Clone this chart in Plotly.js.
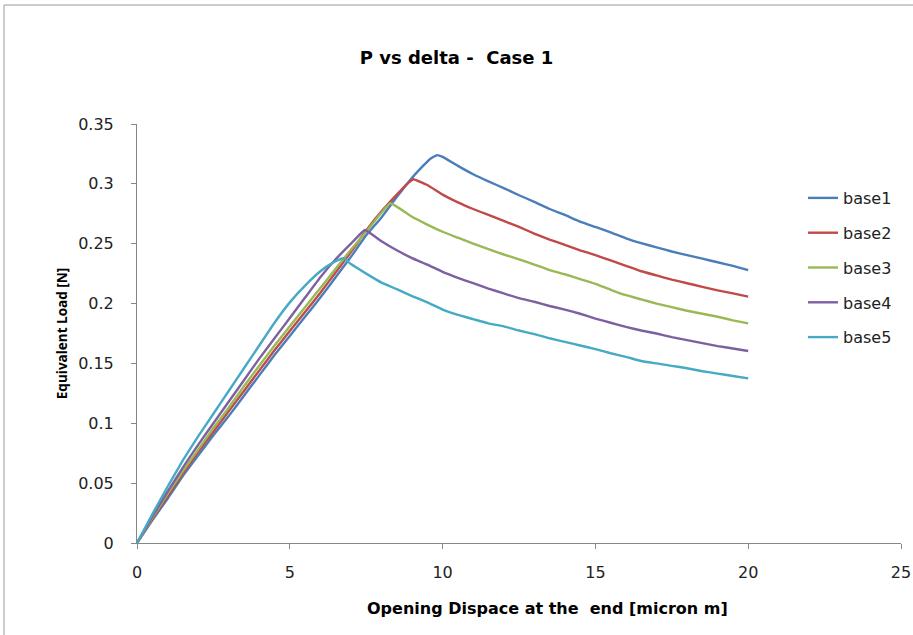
<!DOCTYPE html>
<html>
<head>
<meta charset="utf-8">
<script src="https://cdn.plot.ly/plotly-3.0.1.min.js"></script>
<style>
  html, body { margin: 0; padding: 0; background: #ffffff; }
  #chart { width: 913px; height: 635px; }
</style>
</head>
<body>
<div id="chart"></div>
<script>
// Series names
const seriesNames = ["base1", "base2", "base3", "base4", "base5"];

// base1
const base1X = [0, 0.5, 1, 1.5, 2, 2.5, 3, 3.5, 4, 4.5, 5, 5.5, 6, 6.5, 7, 7.5, 8, 8.5, 9, 9.4, 9.6, 9.82, 10, 10.5, 11, 11.5, 12, 12.5, 13, 13.5, 14, 14.5, 15, 15.5, 16, 16.5, 17, 17.5, 18, 18.5, 19, 19.5, 20];
const base1Y = [0, 0.019, 0.037, 0.056, 0.073, 0.090, 0.106, 0.123, 0.140, 0.157, 0.173, 0.189, 0.205, 0.222, 0.239, 0.257, 0.272, 0.289, 0.305, 0.316, 0.321, 0.324, 0.3225, 0.315, 0.308, 0.302, 0.2965, 0.2905, 0.285, 0.279, 0.274, 0.2685, 0.264, 0.2595, 0.2545, 0.2505, 0.247, 0.2435, 0.2405, 0.2375, 0.2345, 0.2315, 0.228];

// base2
const base2X = [0, 0.5, 1, 1.5, 2, 2.5, 3, 3.5, 4, 4.5, 5, 5.5, 6, 6.5, 7, 7.5, 8, 8.5, 8.8, 9.04, 9.5, 10, 10.5, 11, 11.5, 12, 12.5, 13, 13.5, 14, 14.5, 15, 15.5, 16, 16.5, 17, 17.5, 18, 18.5, 19, 19.5, 20];
const base2Y = [0, 0.020, 0.039, 0.058, 0.076, 0.093, 0.110, 0.127, 0.144, 0.161, 0.177, 0.193, 0.209, 0.226, 0.243, 0.261, 0.277, 0.291, 0.299, 0.3038, 0.299, 0.291, 0.2845, 0.279, 0.274, 0.269, 0.264, 0.2585, 0.2535, 0.249, 0.2445, 0.2405, 0.236, 0.2315, 0.227, 0.2235, 0.220, 0.217, 0.214, 0.211, 0.2085, 0.2058];

// base3
const base3X = [0, 0.5, 1, 1.5, 2, 2.5, 3, 3.5, 4, 4.5, 5, 5.5, 6, 6.5, 7, 7.5, 8, 8.28, 8.5, 9, 9.5, 10, 10.5, 11, 11.5, 12, 12.5, 13, 13.5, 14, 14.5, 15, 15.5, 16, 16.5, 17, 17.5, 18, 18.5, 19, 19.5, 20];
const base3Y = [0, 0.021, 0.041, 0.060, 0.078, 0.096, 0.113, 0.131, 0.148, 0.165, 0.181, 0.197, 0.213, 0.229, 0.245, 0.260, 0.276, 0.2838, 0.281, 0.2725, 0.266, 0.260, 0.255, 0.250, 0.2455, 0.241, 0.237, 0.2325, 0.228, 0.2245, 0.2205, 0.2165, 0.2115, 0.207, 0.2035, 0.200, 0.197, 0.194, 0.1915, 0.189, 0.186, 0.1835];

// base4
const base4X = [0, 0.5, 1, 1.5, 2, 2.5, 3, 3.5, 4, 4.5, 5, 5.5, 6, 6.5, 7, 7.46, 8, 8.5, 9, 9.5, 10, 10.5, 11, 11.5, 12, 12.5, 13, 13.5, 14, 14.5, 15, 15.5, 16, 16.5, 17, 17.5, 18, 18.5, 19, 19.5, 20];
const base4Y = [0, 0.022, 0.043, 0.063, 0.082, 0.100, 0.118, 0.136, 0.154, 0.171, 0.188, 0.205, 0.222, 0.237, 0.250, 0.2615, 0.252, 0.2445, 0.238, 0.2325, 0.2265, 0.2215, 0.217, 0.2125, 0.2085, 0.2045, 0.2015, 0.198, 0.195, 0.1915, 0.1875, 0.184, 0.1805, 0.1775, 0.175, 0.172, 0.1695, 0.167, 0.1645, 0.1625, 0.1604];

// base5
const base5X = [0, 0.5, 1, 1.5, 2, 2.5, 3, 3.5, 4, 4.5, 5, 5.5, 6, 6.4, 6.75, 7, 7.5, 8, 8.5, 9, 9.5, 10, 10.5, 11, 11.5, 12, 12.5, 13, 13.5, 14, 14.5, 15, 15.5, 16, 16.5, 17, 17.5, 18, 18.5, 19, 19.5, 20];
const base5Y = [0, 0.024, 0.047, 0.069, 0.089, 0.108, 0.127, 0.146, 0.165, 0.184, 0.201, 0.215, 0.227, 0.234, 0.238, 0.233, 0.225, 0.2175, 0.212, 0.2063, 0.201, 0.195, 0.1905, 0.187, 0.1835, 0.181, 0.1775, 0.1745, 0.171, 0.168, 0.165, 0.162, 0.1585, 0.1555, 0.152, 0.150, 0.148, 0.146, 0.1435, 0.1415, 0.1395, 0.1375];

// Tick values
const xTicks = [0, 5, 10, 15, 20, 25];
const yTicks = [0, 0.05, 0.1, 0.15, 0.2, 0.25, 0.3, 0.35];
const yTickText = ["0", "0.05", "0.1", "0.15", "0.2", "0.25", "0.3", "0.35"];

const colors = ["#4A7EBB", "#BE4B48", "#98B954", "#7D60A0", "#46AAC5"];
const xs = [base1X, base2X, base3X, base4X, base5X];
const ys = [base1Y, base2Y, base3Y, base4Y, base5Y];

const traces = seriesNames.map((n, i) => ({
  type: "scatter",
  mode: "lines",
  name: n,
  legendgroup: n,
  x: xs[i],
  y: ys[i],
  line: { color: colors[i], width: 2.4, shape: "spline", smoothing: 0.3 }
}));

const wideFont = "DejaVu Sans, Verdana, sans-serif";
const narrowFont = "Open Sans, Noto Sans, sans-serif";
const L = 137, R = 901, T = 124, B = 543;
const pw = R - L, ph = B - T;

const layout = {
  width: 913,
  height: 635,
  margin: { l: L, r: 913 - R, t: T, b: 635 - B },
  paper_bgcolor: "#ffffff",
  plot_bgcolor: "#ffffff",
  showlegend: true,
  title: {
    text: "<b>P vs delta -  Case 1</b>",
    x: 0.5, xref: "container", xanchor: "center",
    y: 1 - 58 / 635, yref: "container", yanchor: "middle",
    font: { family: wideFont, size: 18, color: "#000000" }
  },
  xaxis: {
    range: [0, 25],
    tickvals: xTicks,
    ticktext: xTicks.map(String),
    showgrid: false,
    zeroline: false,
    showline: true,
    linecolor: "#868686",
    linewidth: 1,
    ticks: "outside",
    ticklen: 5,
    tickcolor: "#868686",
    ticklabelstandoff: 10,
    tickfont: { family: wideFont, size: 16, color: "#222222" }
  },
  yaxis: {
    range: [0, 0.35],
    tickvals: yTicks,
    ticktext: yTickText,
    showgrid: false,
    zeroline: false,
    showline: true,
    linecolor: "#868686",
    linewidth: 1,
    ticks: "outside",
    ticklen: 5,
    tickcolor: "#868686",
    ticklabelstandoff: 14,
    tickfont: { family: wideFont, size: 16, color: "#222222" },
    title: {
      text: "<b>Equivalent Load [N]</b>",
      font: { family: narrowFont, size: 13.5, color: "#000000" },
      standoff: 7
    }
  },
  annotations: [
    {
      text: "<b>Opening Dispace at the  end [micron m]</b>",
      xref: "paper", yref: "paper",
      x: (547 - L) / pw, y: (B - 608) / ph,
      xanchor: "center", yanchor: "middle",
      showarrow: false,
      font: { family: wideFont, size: 16, color: "#000000" }
    }
  ],
  legend: {
    x: (803 - L) / pw,
    y: (B - 181) / ph,
    xanchor: "left",
    yanchor: "top",
    bgcolor: "rgba(0,0,0,0)",
    font: { family: wideFont, size: 16, color: "#222222" },
    tracegroupgap: 11,
    itemwidth: 30
  },
  shapes: [
    { type: "line", xref: "paper", yref: "paper",
      x0: (4 - L) / pw, x1: (913 - L) / pw, y0: (B - 5) / ph, y1: (B - 5) / ph,
      line: { color: "#9a9a9a", width: 1 } },
    { type: "line", xref: "paper", yref: "paper",
      x0: (4 - L) / pw, x1: (4 - L) / pw, y0: (B - 5) / ph, y1: (B - 640) / ph,
      line: { color: "#9a9a9a", width: 1 } }
  ]
};

Plotly.newPlot("chart", traces, layout, { displayModeBar: false, staticPlot: true });
</script>
</body>
</html>
